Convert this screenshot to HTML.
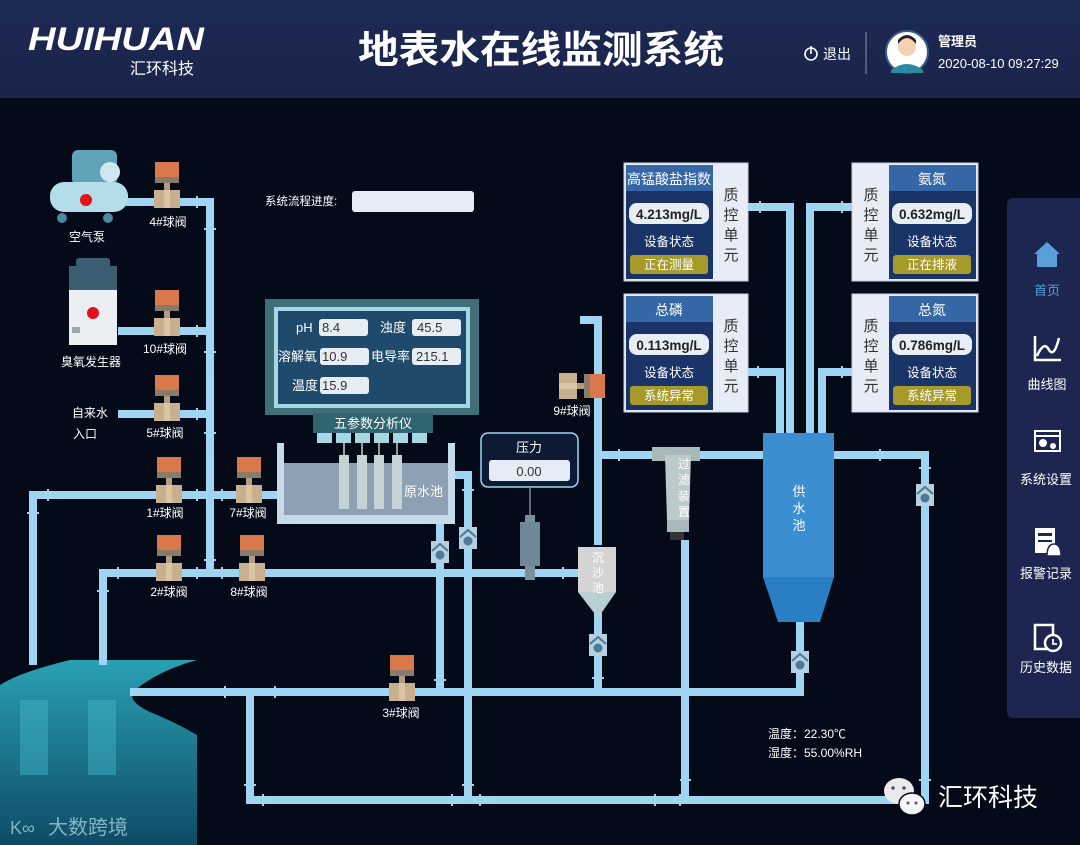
<!DOCTYPE html>
<html><head><meta charset="utf-8"><style>
html,body{margin:0;padding:0;background:#040a18;}
svg{display:block}
text{font-family:"Liberation Sans","Noto Sans CJK SC",sans-serif;}
</style></head><body>
<svg width="1080" height="845" viewBox="0 0 1080 845" xmlns="http://www.w3.org/2000/svg">
<defs>
<linearGradient id="wat" x1="0" y1="0" x2="0" y2="1"><stop offset="0" stop-color="#2aa0b3"/><stop offset="1" stop-color="#0e4b66"/></linearGradient>
<linearGradient id="hdr" x1="0" y1="0" x2="0" y2="1"><stop offset="0" stop-color="#1d2a55"/><stop offset="1" stop-color="#1a244a"/></linearGradient>
<g id="valve"><rect x="0" y="0" width="24" height="15" fill="#d9784a"/><rect x="0" y="15" width="24" height="6" fill="#8a7b68"/><rect x="9" y="21" width="6" height="7" fill="#b39d80"/><rect x="-1" y="28" width="26" height="18" fill="#c8b08f"/><rect x="9" y="28" width="6" height="18" fill="#d9c4a4"/></g>
<g id="meter"><rect x="-9" y="-11" width="18" height="22" fill="#b6d0e2"/><path d="M-8,-1 L0,-8 L8,-1" stroke="#4d7a96" stroke-width="2" fill="none"/><circle cx="0" cy="3" r="4.5" fill="#4d7a96"/></g>
</defs>
<rect width="1080" height="845" fill="#040a18"/>
<!-- header -->
<rect x="0" y="0" width="1080" height="98" fill="url(#hdr)"/>
<text x="28" y="50" font-size="32" font-style="italic" font-weight="bold" fill="#fff" textLength="176" lengthAdjust="spacingAndGlyphs">HUIHUAN</text>
<text x="130" y="74" font-size="16" fill="#fff">汇环科技</text>
<text x="541" y="63" font-size="38" font-weight="bold" fill="#fff" text-anchor="middle" textLength="366" lengthAdjust="spacingAndGlyphs">地表水在线监测系统</text>
<circle cx="811" cy="54" r="6" fill="none" stroke="#fff" stroke-width="1.6"/><line x1="811" y1="46" x2="811" y2="54" stroke="#fff" stroke-width="1.6"/>
<text x="823" y="59" font-size="14" fill="#fff">退出</text>
<line x1="866" y1="32" x2="866" y2="74" stroke="#8892b0" stroke-width="1"/>
<circle cx="907" cy="52" r="21" fill="#fff" stroke="#3a5a8a" stroke-width="2"/>
<circle cx="907" cy="47" r="9" fill="#f3d2b3"/><path d="M898,44 Q907,32 916,44 L916,40 Q907,30 898,40Z" fill="#222"/><path d="M891,70 Q907,58 923,70 L923,73 L891,73Z" fill="#2a8aa0"/>
<text x="938" y="46" font-size="13" font-weight="bold" fill="#fff">管理员</text>
<text x="938" y="68" font-size="13" fill="#fff">2020-08-10 09:27:29</text>
<!-- water -->
<path d="M0,685 Q20,672 70,660 L197,660 Q160,670 135,690 Q125,700 150,712 Q175,722 197,735 L197,845 L0,845Z" fill="url(#wat)"/>
<rect x="20" y="700" width="28" height="75" fill="#3fb2c2" opacity="0.5"/><rect x="88" y="700" width="28" height="75" fill="#3fb2c2" opacity="0.5"/>
<text x="48" y="834" font-size="20" fill="#9fcfd8" opacity="0.8">大数跨境</text>
<text x="10" y="834" font-size="18" fill="#9fcfd8" opacity="0.8">K∞</text>
<!-- pipes -->
<g stroke="#9fd4f2" stroke-width="8" fill="none" stroke-linejoin="miter">
<path d="M126,202 H210 V572"/>
<path d="M118,331 H210"/>
<path d="M118,414 H210"/>
<path d="M33,665 V495 H278"/>
<path d="M103,665 V573 H580"/>
<path d="M130,692 H800 V622"/>
<path d="M250,692 V800 H925 V455 H834"/>
<path d="M763,455 H600"/>
<path d="M598,545 V320 H580"/>
<path d="M440,520 V692"/>
<path d="M455,475 H468 V800"/>
<path d="M598,610 V692"/>
<path d="M685,540 V800"/>
<path d="M748,207 H790 V435"/>
<path d="M852,207 H810 V435"/>
<path d="M748,372 H780 V435"/>
<path d="M852,372 H822 V435"/>
</g>
<g stroke="#9fd4f2" stroke-width="2">
<line x1="197" y1="196" x2="197" y2="208"/><line x1="204" y1="229" x2="216" y2="229"/><line x1="197" y1="325" x2="197" y2="337"/><line x1="204" y1="352" x2="216" y2="352"/><line x1="197" y1="408" x2="197" y2="420"/><line x1="204" y1="433" x2="216" y2="433"/>
<line x1="48" y1="489" x2="48" y2="501"/><line x1="27" y1="513" x2="39" y2="513"/><line x1="197" y1="489" x2="197" y2="501"/><line x1="222" y1="489" x2="222" y2="501"/>
<line x1="118" y1="567" x2="118" y2="579"/><line x1="97" y1="591" x2="109" y2="591"/><line x1="197" y1="567" x2="197" y2="579"/><line x1="222" y1="567" x2="222" y2="579"/><line x1="204" y1="560" x2="216" y2="560"/>
<line x1="225" y1="686" x2="225" y2="698"/><line x1="275" y1="686" x2="275" y2="698"/><line x1="244" y1="785" x2="256" y2="785"/><line x1="263" y1="794" x2="263" y2="806"/>
<line x1="452" y1="794" x2="452" y2="806"/><line x1="480" y1="794" x2="480" y2="806"/><line x1="655" y1="794" x2="655" y2="806"/><line x1="680" y1="780" x2="691" y2="780"/><line x1="680" y1="794" x2="680" y2="806"/>
<line x1="619" y1="449" x2="619" y2="461"/><line x1="880" y1="449" x2="880" y2="461"/><line x1="919" y1="468" x2="931" y2="468"/><line x1="919" y1="780" x2="931" y2="780"/>
<line x1="760" y1="201" x2="760" y2="213"/><line x1="842" y1="201" x2="842" y2="213"/><line x1="758" y1="366" x2="758" y2="378"/><line x1="842" y1="366" x2="842" y2="378"/>
<line x1="563" y1="567" x2="563" y2="579"/><line x1="434" y1="680" x2="446" y2="680"/><line x1="592" y1="678" x2="604" y2="678"/><line x1="462" y1="490" x2="474" y2="490"/><line x1="462" y1="785" x2="474" y2="785"/>
</g>
<!-- air pump -->
<rect x="72" y="150" width="45" height="35" rx="6" fill="#5fa4b8"/>
<circle cx="110" cy="172" r="10" fill="#cfe7ee"/>
<rect x="50" y="182" width="78" height="30" rx="14" fill="#b4dde9"/>
<circle cx="86" cy="200" r="6" fill="#e5101a"/>
<circle cx="62" cy="218" r="5" fill="#4a8aa0"/><circle cx="108" cy="218" r="5" fill="#4a8aa0"/>
<text x="87" y="241" font-size="12" fill="#fff" text-anchor="middle">空气泵</text>
<!-- ozone -->
<rect x="76" y="258" width="34" height="10" rx="3" fill="#3c5e72"/>
<rect x="69" y="266" width="48" height="24" fill="#3c5e72"/>
<rect x="69" y="290" width="48" height="55" fill="#eceff2"/>
<circle cx="93" cy="313" r="6" fill="#e5101a"/><rect x="72" y="327" width="8" height="6" fill="#9aa8b5"/>
<text x="91" y="366" font-size="12" fill="#fff" text-anchor="middle">臭氧发生器</text>
<text x="90" y="417" font-size="12" fill="#fff" text-anchor="middle">自来水</text>
<text x="85" y="438" font-size="12" fill="#fff" text-anchor="middle">入口</text>
<!-- valves -->
<use href="#valve" x="155" y="162"/><text x="168" y="226" font-size="12" fill="#fff" text-anchor="middle">4#球阀</text>
<use href="#valve" x="155" y="290"/><text x="165" y="353" font-size="12" fill="#fff" text-anchor="middle">10#球阀</text>
<use href="#valve" x="155" y="375"/><text x="165" y="437" font-size="12" fill="#fff" text-anchor="middle">5#球阀</text>
<use href="#valve" x="157" y="457"/><text x="165" y="517" font-size="12" fill="#fff" text-anchor="middle">1#球阀</text>
<use href="#valve" x="237" y="457"/><text x="248" y="517" font-size="12" fill="#fff" text-anchor="middle">7#球阀</text>
<use href="#valve" x="157" y="535"/><text x="169" y="596" font-size="12" fill="#fff" text-anchor="middle">2#球阀</text>
<use href="#valve" x="240" y="535"/><text x="249" y="596" font-size="12" fill="#fff" text-anchor="middle">8#球阀</text>
<use href="#valve" x="390" y="655"/><text x="401" y="717" font-size="12" fill="#fff" text-anchor="middle">3#球阀</text>
<g transform="translate(605,374) rotate(90)"><use href="#valve" x="0" y="0"/></g>
<text x="572" y="415" font-size="12" fill="#fff" text-anchor="middle">9#球阀</text>
<!-- progress -->
<text x="265" y="205" font-size="11.5" fill="#fff">系统流程进度:</text>
<rect x="352" y="191" width="122" height="21" rx="3" fill="#e4edf5"/>
<!-- analyzer -->
<rect x="265" y="299" width="214" height="116" fill="#3f6f78"/>
<rect x="274" y="307" width="196" height="101" fill="#a6d8e4"/>
<rect x="278" y="311" width="188" height="93" fill="#1f4a6c"/>
<g font-size="13" fill="#fff">
<text x="296" y="332">pH</text><rect x="319" y="319" width="49" height="17" rx="3" fill="#e6eef4"/><text x="322" y="332" fill="#333">8.4</text>
<text x="380" y="332">浊度</text><rect x="412" y="319" width="49" height="17" rx="3" fill="#e6eef4"/><text x="417" y="332" fill="#333">45.5</text>
<text x="278" y="361">溶解氧</text><rect x="320" y="348" width="49" height="17" rx="3" fill="#e6eef4"/><text x="322" y="361" fill="#333">10.9</text>
<text x="371" y="361">电导率</text><rect x="412" y="348" width="49" height="17" rx="3" fill="#e6eef4"/><text x="416" y="361" fill="#333">215.1</text>
<text x="292" y="390">温度</text><rect x="320" y="377" width="49" height="17" rx="3" fill="#e6eef4"/><text x="322" y="390" fill="#333">15.9</text>
</g>
<rect x="313" y="413" width="120" height="20" fill="#2f6470"/>
<text x="373" y="428" font-size="13" fill="#fff" text-anchor="middle">五参数分析仪</text>
<g fill="#a6d8e4"><rect x="317" y="433" width="15" height="10"/><rect x="336" y="433" width="15" height="10"/><rect x="355" y="433" width="15" height="10"/><rect x="374" y="433" width="15" height="10"/><rect x="393" y="433" width="15" height="10"/><rect x="412" y="433" width="15" height="10"/></g>
<!-- raw tank -->
<rect x="277" y="443" width="178" height="81" fill="#c6dbea"/>
<rect x="284" y="443" width="164" height="72" fill="#040a18"/>
<rect x="284" y="463" width="164" height="52" fill="#8ea0b3"/>
<g fill="#c5d3d4"><rect x="339" y="455" width="10" height="54"/><rect x="357" y="455" width="10" height="54"/><rect x="374" y="455" width="10" height="54"/><rect x="392" y="455" width="10" height="54"/></g>
<g stroke="#c5d3d4" stroke-width="1.5"><line x1="344" y1="443" x2="344" y2="455"/><line x1="362" y1="443" x2="362" y2="455"/><line x1="379" y1="443" x2="379" y2="455"/><line x1="397" y1="443" x2="397" y2="455"/></g>
<text x="404" y="496" font-size="13" fill="#fff">原水池</text>
<!-- pressure -->
<rect x="481" y="433" width="97" height="54" rx="7" fill="#0c1a33" stroke="#9fd4f2" stroke-width="1.5"/>
<text x="529" y="452" font-size="13" fill="#fff" text-anchor="middle">压力</text>
<rect x="489" y="460" width="81" height="21" rx="3" fill="#e4edf5"/>
<text x="529" y="476" font-size="13" fill="#333" text-anchor="middle">0.00</text>
<line x1="530" y1="487" x2="530" y2="517" stroke="#7a8a96" stroke-width="1.5"/>
<rect x="525" y="515" width="10" height="8" fill="#78909e"/>
<rect x="520" y="522" width="20" height="44" fill="#6f8796"/>
<rect x="525" y="566" width="10" height="14" fill="#78909e"/>
<!-- sediment -->
<rect x="578" y="547" width="38" height="45" fill="#d4d4d4"/>
<path d="M578,592 L616,592 L598,618Z" fill="#b8d0d4"/>
<text x="598" y="562" font-size="12" fill="#fff" text-anchor="middle">沉</text><text x="598" y="577" font-size="12" fill="#fff" text-anchor="middle">沙</text><text x="598" y="592" font-size="12" fill="#fff" text-anchor="middle">池</text>
<!-- filter -->
<rect x="652" y="447" width="48" height="14" fill="#a7b8ba"/>
<path d="M665,455 L691,455 L689,520 L667,520Z" fill="#bccacb"/>
<rect x="667" y="520" width="22" height="12" fill="#a7b8ba"/>
<rect x="670" y="532" width="14" height="8" fill="#333"/>
<text x="684" y="468" font-size="12" fill="#fff" text-anchor="middle">过</text><text x="684" y="484" font-size="12" fill="#fff" text-anchor="middle">滤</text><text x="684" y="500" font-size="12" fill="#fff" text-anchor="middle">装</text><text x="684" y="516" font-size="12" fill="#fff" text-anchor="middle">置</text>
<!-- supply -->
<rect x="763" y="433" width="71" height="145" fill="#3b8fd0"/>
<path d="M763,577 L834,577 L820,622 L778,622Z" fill="#2a7ec4"/>
<text x="799" y="496" font-size="13" fill="#fff" text-anchor="middle">供</text><text x="799" y="513" font-size="13" fill="#fff" text-anchor="middle">水</text><text x="799" y="530" font-size="13" fill="#fff" text-anchor="middle">池</text>
<!-- meters -->
<use href="#meter" x="440" y="552"/><use href="#meter" x="468" y="538"/><use href="#meter" x="598" y="645"/><use href="#meter" x="800" y="662"/><use href="#meter" x="925" y="495"/>
<text x="768" y="738" font-size="12" fill="#fff">温度：22.30℃</text>
<text x="768" y="757" font-size="12" fill="#fff">湿度：55.00%RH</text>
<!-- QC units -->
<g>
<rect x="624" y="163" width="124" height="118" fill="#e8ecf6" stroke="#c8d0e0"/>
<rect x="626" y="165" width="87" height="114" fill="#1a3468"/><rect x="626" y="165" width="87" height="26" fill="#3567a7"/>
<text x="669" y="184" font-size="14" fill="#fff" text-anchor="middle">高锰酸盐指数</text>
<rect x="629" y="203" width="80" height="21" rx="8" fill="#e8eef5"/><text x="669" y="219" font-size="13.5" font-weight="bold" fill="#222" text-anchor="middle">4.213mg/L</text>
<text x="669" y="246" font-size="12.5" fill="#fff" text-anchor="middle">设备状态</text>
<rect x="630" y="255" width="78" height="19" rx="3" fill="#a59a2a"/><text x="669" y="269" font-size="12.5" fill="#fff" text-anchor="middle">正在测量</text>
<g font-size="15" fill="#333" text-anchor="middle"><text x="731" y="200">质</text><text x="731" y="220">控</text><text x="731" y="240">单</text><text x="731" y="260">元</text></g>
</g>
<g>
<rect x="852" y="163" width="126" height="118" fill="#e8ecf6" stroke="#c8d0e0"/>
<rect x="889" y="165" width="87" height="114" fill="#1a3468"/><rect x="889" y="165" width="87" height="26" fill="#3567a7"/>
<text x="932" y="184" font-size="14" fill="#fff" text-anchor="middle">氨氮</text>
<rect x="892" y="203" width="80" height="21" rx="8" fill="#e8eef5"/><text x="932" y="219" font-size="13.5" font-weight="bold" fill="#222" text-anchor="middle">0.632mg/L</text>
<text x="932" y="246" font-size="12.5" fill="#fff" text-anchor="middle">设备状态</text>
<rect x="893" y="255" width="78" height="19" rx="3" fill="#a59a2a"/><text x="932" y="269" font-size="12.5" fill="#fff" text-anchor="middle">正在排液</text>
<g font-size="15" fill="#333" text-anchor="middle"><text x="871" y="200">质</text><text x="871" y="220">控</text><text x="871" y="240">单</text><text x="871" y="260">元</text></g>
</g>
<g>
<rect x="624" y="294" width="124" height="118" fill="#e8ecf6" stroke="#c8d0e0"/>
<rect x="626" y="296" width="87" height="114" fill="#1a3468"/><rect x="626" y="296" width="87" height="26" fill="#3567a7"/>
<text x="669" y="315" font-size="14" fill="#fff" text-anchor="middle">总磷</text>
<rect x="629" y="334" width="80" height="21" rx="8" fill="#e8eef5"/><text x="669" y="350" font-size="13.5" font-weight="bold" fill="#222" text-anchor="middle">0.113mg/L</text>
<text x="669" y="377" font-size="12.5" fill="#fff" text-anchor="middle">设备状态</text>
<rect x="630" y="386" width="78" height="19" rx="3" fill="#a59a2a"/><text x="669" y="400" font-size="12.5" fill="#fff" text-anchor="middle">系统异常</text>
<g font-size="15" fill="#333" text-anchor="middle"><text x="731" y="331">质</text><text x="731" y="351">控</text><text x="731" y="371">单</text><text x="731" y="391">元</text></g>
</g>
<g>
<rect x="852" y="294" width="126" height="118" fill="#e8ecf6" stroke="#c8d0e0"/>
<rect x="889" y="296" width="87" height="114" fill="#1a3468"/><rect x="889" y="296" width="87" height="26" fill="#3567a7"/>
<text x="932" y="315" font-size="14" fill="#fff" text-anchor="middle">总氮</text>
<rect x="892" y="334" width="80" height="21" rx="8" fill="#e8eef5"/><text x="932" y="350" font-size="13.5" font-weight="bold" fill="#222" text-anchor="middle">0.786mg/L</text>
<text x="932" y="377" font-size="12.5" fill="#fff" text-anchor="middle">设备状态</text>
<rect x="893" y="386" width="78" height="19" rx="3" fill="#a59a2a"/><text x="932" y="400" font-size="12.5" fill="#fff" text-anchor="middle">系统异常</text>
<g font-size="15" fill="#333" text-anchor="middle"><text x="871" y="331">质</text><text x="871" y="351">控</text><text x="871" y="371">单</text><text x="871" y="391">元</text></g>
</g>
<!-- sidebar -->
<rect x="1007" y="198" width="80" height="520" rx="6" fill="#1c2650"/>
<path d="M1034,254 L1047,242 L1060,254 L1057,254 L1057,267 L1037,267 L1037,254Z" fill="#5a9fd8"/>
<text x="1047" y="295" font-size="13" fill="#5a9fd8" text-anchor="middle">首页</text>
<path d="M1035,336 V360 H1061 M1037,356 Q1044,340 1049,350 Q1054,358 1059,338" stroke="#fff" stroke-width="2.5" fill="none"/>
<text x="1047" y="389" font-size="13" fill="#fff" text-anchor="middle">曲线图</text>
<rect x="1035" y="431" width="25" height="20" fill="none" stroke="#fff" stroke-width="2"/><line x1="1035" y1="436" x2="1060" y2="436" stroke="#fff" stroke-width="2"/><circle cx="1043" cy="443" r="4" fill="#fff"/><circle cx="1053" cy="446" r="3" fill="#fff"/>
<text x="1046" y="484" font-size="13" fill="#fff" text-anchor="middle">系统设置</text>
<rect x="1035" y="528" width="20" height="25" fill="#fff"/><rect x="1038" y="533" width="14" height="3" fill="#1c2650"/><rect x="1038" y="540" width="14" height="2" fill="#1c2650"/><path d="M1047,556 Q1047,544 1054,544 Q1061,544 1061,556Z" fill="#fff" stroke="#1c2650" stroke-width="1.5"/>
<text x="1046" y="578" font-size="13" fill="#fff" text-anchor="middle">报警记录</text>
<rect x="1035" y="625" width="18" height="24" fill="none" stroke="#fff" stroke-width="2.5"/><circle cx="1053" cy="643" r="8" fill="#1c2650" stroke="#fff" stroke-width="2.5"/><path d="M1053,639 V644 H1057" stroke="#fff" stroke-width="1.8" fill="none"/>
<text x="1046" y="672" font-size="13" fill="#fff" text-anchor="middle">历史数据</text>
<!-- wechat watermark -->
<ellipse cx="899" cy="791" rx="15" ry="13" fill="#eaeaea"/><ellipse cx="912" cy="804" rx="13" ry="11" fill="#f5f5f5" stroke="#040a18" stroke-width="1.5"/>
<circle cx="893" cy="788" r="1.8" fill="#555"/><circle cx="904" cy="788" r="1.8" fill="#555"/><circle cx="908" cy="803" r="1.5" fill="#555"/><circle cx="916" cy="803" r="1.5" fill="#555"/>
<text x="938" y="806" font-size="25" fill="#fff">汇环科技</text>
</svg>
</body></html>
